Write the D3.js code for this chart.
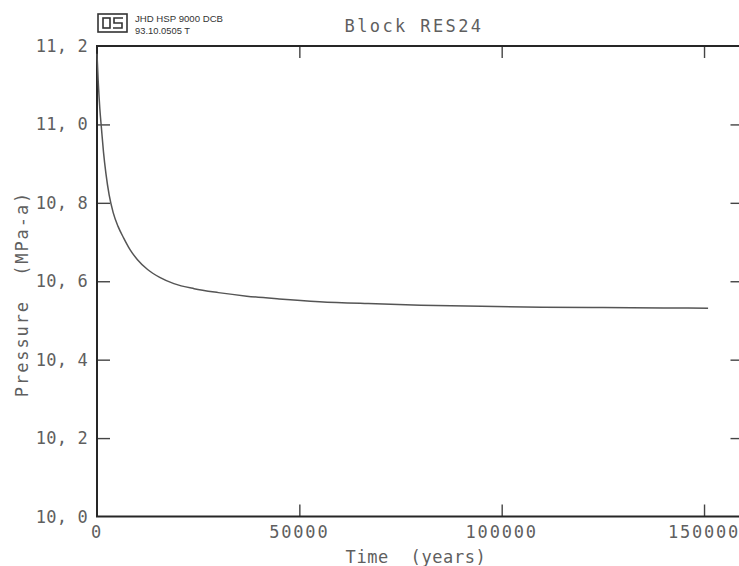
<!DOCTYPE html>
<html lang="en">
  <head>
    <meta charset="UTF-8" />
    <script src="https://d3js.org/d3.v7.min.js"></script>
    <title>Block RES24</title>
    <style>
      body { margin: 0; background: #fff; }
      svg { display: block; }
      .lbl { font-family: 'DejaVu Sans Mono', monospace; font-size: 17px; fill: #5f5f5f; white-space: pre; }
      .frame { stroke: #262626; stroke-width: 2; fill: none; }
      .tick line { stroke: #444; stroke-width: 1.4; }
    </style>
  </head>
  <body>
    <script>
      // time (years) vs pressure (MPa-a)
      const timeYears = [0, 300, 700, 1100, 1600, 2200, 3000, 4000, 5200, 6600, 8200, 10000, 12500,
        15500, 19000, 24000, 30000, 37000, 45000, 55000, 67000, 80000, 95000, 110000, 125000, 140000, 151000]
      const pressure = [11.18, 11.11, 11.04, 10.99, 10.93, 10.875, 10.82, 10.775, 10.74, 10.71, 10.68,
        10.655, 10.63, 10.61, 10.594, 10.581, 10.571, 10.562, 10.555, 10.548, 10.543, 10.539, 10.536,
        10.534, 10.533, 10.532, 10.531]

      const xTicks = [0, 50000, 100000, 150000]
      const yTicks = [10.0, 10.2, 10.4, 10.6, 10.8, 11.0, 11.2]
      const yTickLabels = ['10, 0', '10, 2', '10, 4', '10, 6', '10, 8', '11, 0', '11, 2']

      const width = 739
      const height = 566

      const svg = d3.select('body')
        .append('svg')
        .attr('width', width)
        .attr('height', height)

      const x = d3.scaleLinear().domain([0, 160000]).range([97, 744.5])
      const y = d3.scaleLinear().domain([10, 11.2]).range([516.5, 46])

      // inner ticks (bottom/top/left/right)
      const inner = [50000, 100000, 150000]
      const innerY = yTicks.slice(1, -1)

      svg.append('g')
        .attr('transform', 'translate(0,' + y(10) + ')')
        .call(d3.axisBottom(x).tickValues(inner).tickSize(-12).tickFormat(''))
      svg.append('g')
        .attr('transform', 'translate(0,' + y(11.2) + ')')
        .call(d3.axisTop(x).tickValues(inner).tickSize(-12).tickFormat(''))
      svg.append('g')
        .attr('transform', 'translate(' + x(0) + ',0)')
        .call(d3.axisLeft(y).tickValues(innerY).tickSize(-13).tickFormat(''))
      svg.append('g')
        .attr('transform', 'translate(' + x(160000) + ',0)')
        .call(d3.axisRight(y).tickValues(innerY).tickSize(-14).tickFormat(''))
      svg.selectAll('.domain').remove()

      // frame
      svg.append('rect')
        .attr('class', 'frame')
        .attr('x', x(0))
        .attr('y', y(11.2))
        .attr('width', x(160000) - x(0))
        .attr('height', y(10) - y(11.2))

      // tick labels
      svg.append('g').selectAll('text')
        .data(xTicks)
        .join('text')
        .attr('class', 'lbl')
        .attr('x', d => x(d))
        .attr('y', 538)
        .attr('text-anchor', 'middle')
        .style('letter-spacing', '1.8px')
        .text(d => String(d))

      svg.append('g').selectAll('text')
        .data(yTicks)
        .join('text')
        .attr('class', 'lbl')
        .attr('x', 88)
        .attr('y', d => y(d) + 6)
        .attr('text-anchor', 'end')
        .style('letter-spacing', '0.2px')
        .text((d, i) => yTickLabels[i])

      // titles
      svg.append('text')
        .attr('class', 'lbl')
        .attr('x', 414)
        .attr('y', 32)
        .attr('text-anchor', 'middle')
        .style('letter-spacing', '2.4px')
        .text('Block RES24')

      svg.append('text')
        .attr('class', 'lbl')
        .attr('x', 416)
        .attr('y', 563)
        .attr('text-anchor', 'middle')
        .style('letter-spacing', '0.6px')
        .text('Time  (years)')

      svg.append('text')
        .attr('class', 'lbl')
        .attr('transform', 'translate(28,294) rotate(-90)')
        .attr('text-anchor', 'middle')
        .style('letter-spacing', '1.9px')
        .text('Pressure  (MPa-a)')

      // plotter stamp
      const stamp = svg.append('g').attr('stroke', '#333').attr('fill', 'none').attr('stroke-width', 1.6)
      stamp.append('rect').attr('x', 98).attr('y', 14).attr('width', 29).attr('height', 18)
      stamp.append('rect').attr('x', 103).attr('y', 18).attr('width', 7).attr('height', 10)
      stamp.append('path').attr('d', 'M123,18 H114 V23 H122 V28 H113')
      svg.append('text')
        .attr('x', 135).attr('y', 22)
        .attr('textLength', 88).attr('lengthAdjust', 'spacingAndGlyphs')
        .style('font-family', 'Liberation Sans, Arial, sans-serif')
        .style('font-size', '9.5px')
        .style('fill', '#333')
        .text('JHD HSP 9000 DCB')
      svg.append('text')
        .attr('x', 135).attr('y', 34)
        .attr('textLength', 55).attr('lengthAdjust', 'spacingAndGlyphs')
        .style('font-family', 'Liberation Sans, Arial, sans-serif')
        .style('font-size', '9.5px')
        .style('fill', '#333')
        .text('93.10.0505 T')

      // pressure curve
      const points = timeYears.map((t, i) => [t, pressure[i]])
      svg.append('path')
        .datum(points)
        .attr('fill', 'none')
        .attr('stroke', '#555')
        .attr('stroke-width', 1.5)
        .attr('d', d3.line().x(d => x(d[0])).y(d => y(d[1])).curve(d3.curveMonotoneX))
    </script>
  </body>
</html>
